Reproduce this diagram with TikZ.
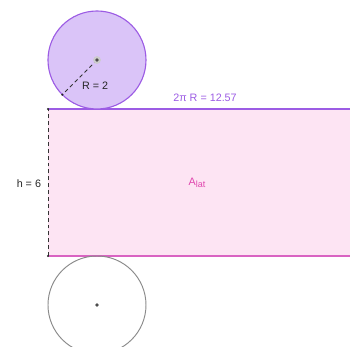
\documentclass[tikz,border=0pt]{standalone}
\usepackage{fontspec}
\setmainfont{Liberation Sans}
\usepackage{xcolor}
\usepackage{tikz}
\usetikzlibrary{calc}
\definecolor{discline}{HTML}{9C5CE4}
\definecolor{discfill}{HTML}{DAC4F8}
\definecolor{latfill}{HTML}{FDE4F3}
\definecolor{latline}{HTML}{D963C2}
\definecolor{latlabel}{HTML}{E046AE}
\definecolor{rimgray}{HTML}{8A8A8A}
\tikzset{
    lbl/.style={font=\fontsize{12.5}{14}\selectfont, inner sep=1pt},
    pt/.style={circle, fill=black!85, inner sep=0pt, minimum size=3.5pt},
    dashline/.style={dash pattern=on 4.5pt off 3.5pt, line width=0.9pt}
}

\begin{document}
\begin{tikzpicture}
    \useasboundingbox (-1.959,-3.714) rectangle (12.327,10.449);
    \clip (-1.959,-3.714) rectangle (12.327,10.449);
    % lateral surface
    \fill[latfill] (0,0) rectangle (12.57,6);
    \draw[discline, line width=1.3pt] (0,6) -- (12.57,6);
    \draw[latline, line width=1.3pt] (0,0) -- (12.57,0);
    % top and bottom discs
    \draw[discline, fill=discfill, line width=1.3pt] (2,8) circle (2);
    \draw[rimgray, line width=1.1pt] (2,-2) circle (2);
    % height
    \coordinate (hbot) at (0,0);
    \coordinate (htop) at (0,6);
    \draw[dashline, black!80] (hbot) -- (htop);
    \node[pt, minimum size=2.5pt] (hb) at (hbot) {};
    \node[pt, minimum size=2.5pt] (ht) at (htop) {};
    % radius
    \coordinate (ctop) at (2,8);
    \coordinate (rim) at ($(ctop)+(225:2)$);
    \draw[dashline, black!80] (ctop) -- (rim);
    \node[pt, minimum size=2.8pt] (rimpt) at (rim) {};
    \node[circle, fill=black!20, inner sep=0pt, minimum size=9pt] (chalo) at (ctop) {};
    \node[pt, fill=black!70, minimum size=4.5pt] (cpt) at (ctop) {};
    \node[pt, fill=black!70, minimum size=4.5pt] (cbot) at (2,-2) {};
    % labels
    \node[lbl, black!85] (rlab) at (1.92,6.94) {R = 2};
    \node[lbl, discline] (circlab) at (6.41,6.45) {2π R = 12.57};
    \node[lbl, black!85] (hlab) at (-0.78,2.94) {h = 6};
    \node[lbl, latlabel] (alab) at (6.08,2.98) {A\raisebox{-0.45ex}{\fontsize{10.5}{12}\selectfont lat}};
\end{tikzpicture}
\end{document}
